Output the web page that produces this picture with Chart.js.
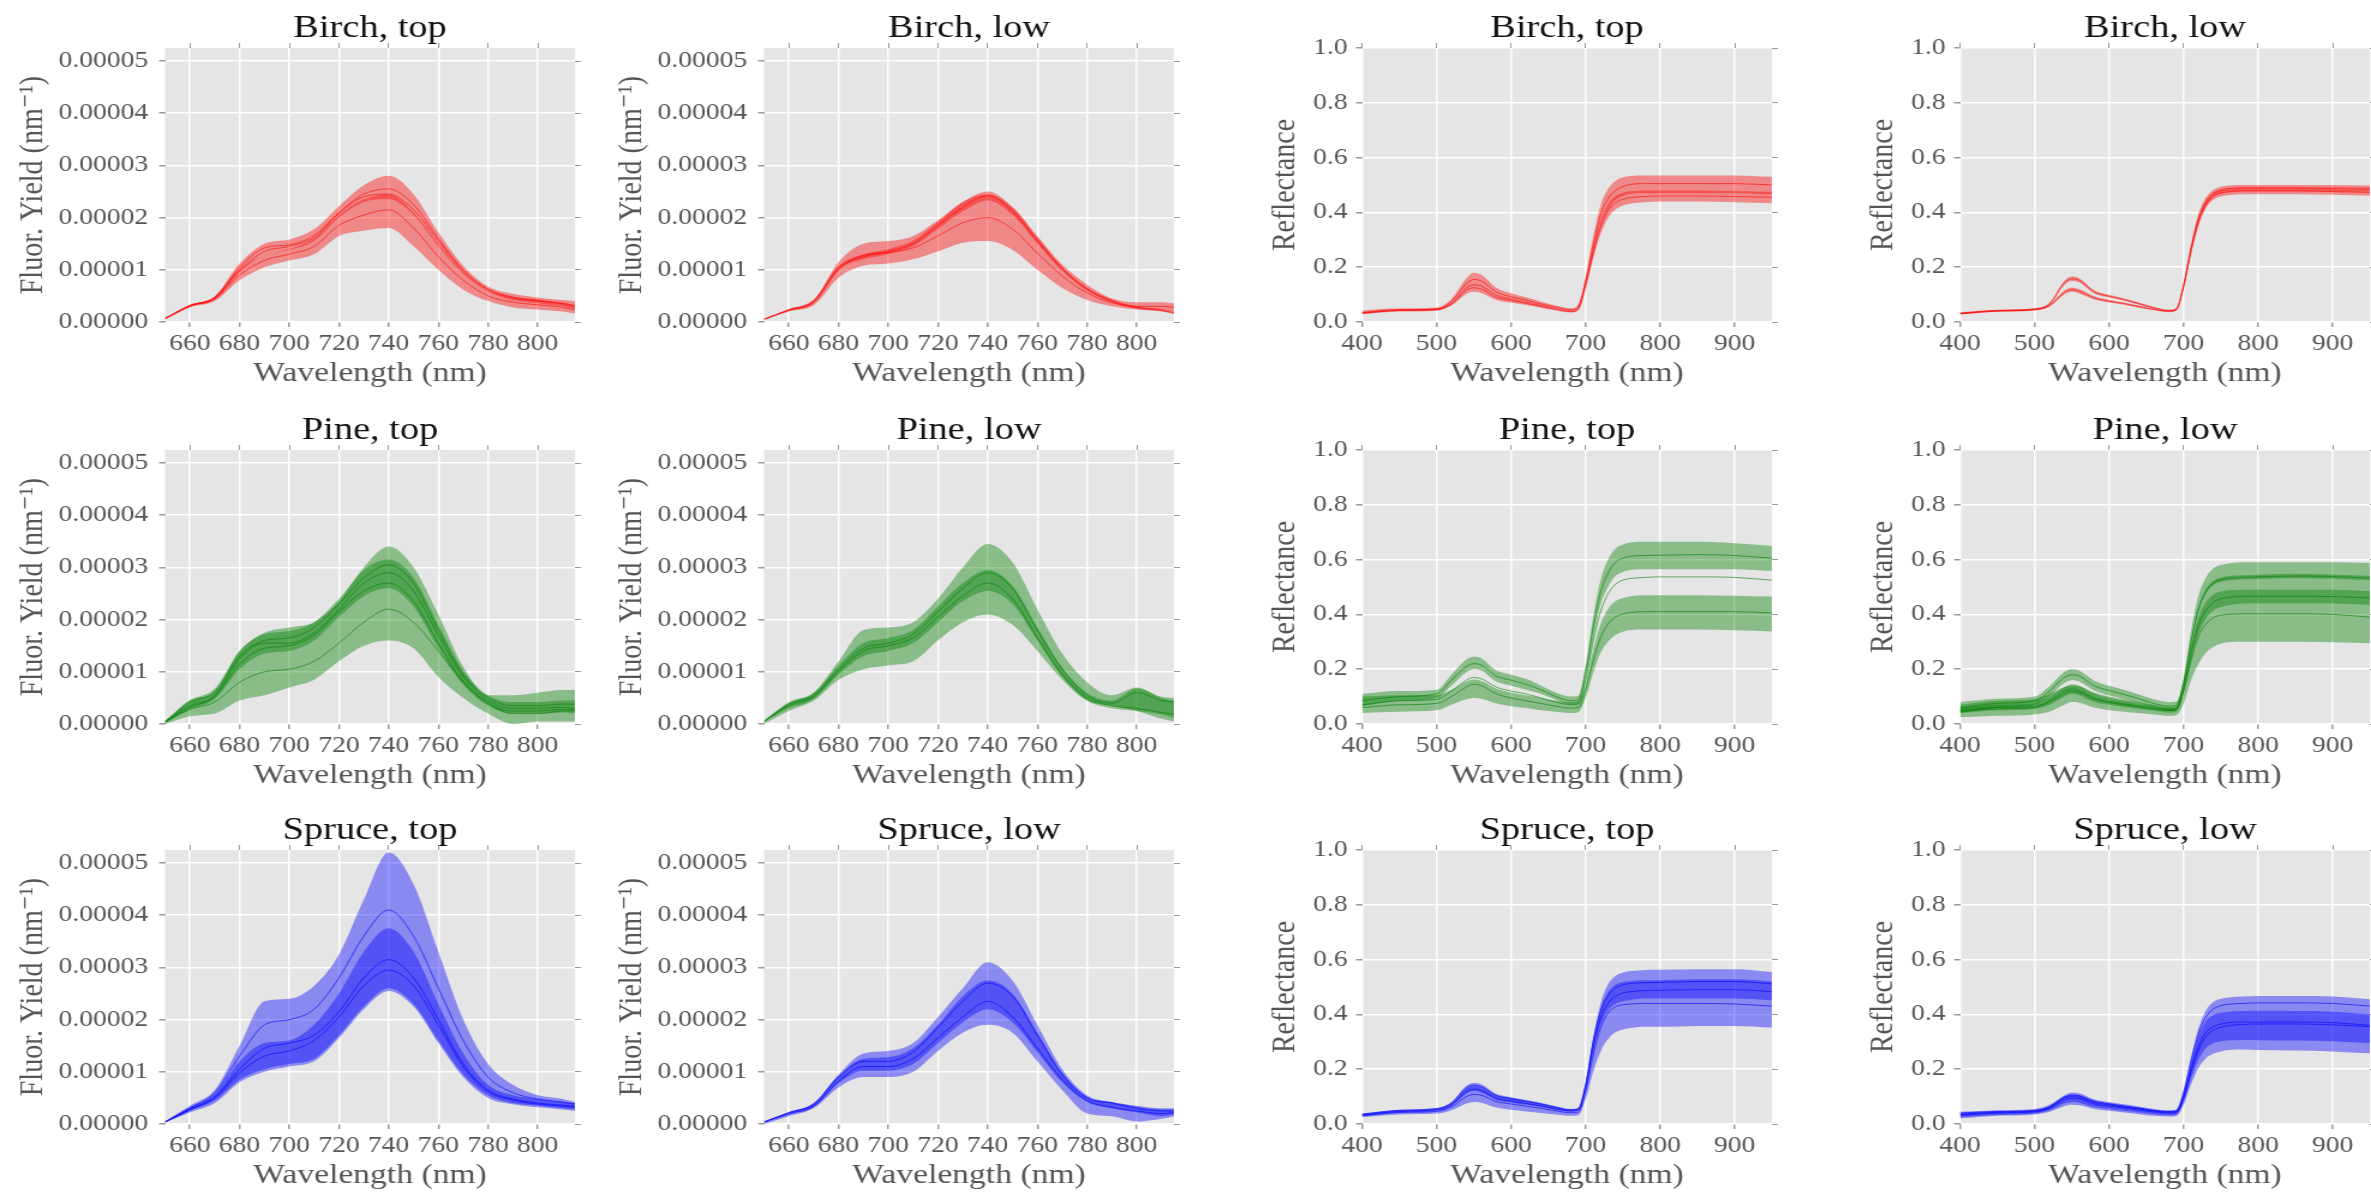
<!DOCTYPE html>
<html>
<head>
<meta charset="utf-8">
<script src="https://cdn.jsdelivr.net/npm/chart.js@4.4.1/dist/chart.umd.min.js"></script>
<style>
  body { margin: 0; background: #fff; width: 2371px; height: 1192px; overflow: hidden; position: relative; }
  canvas { position: absolute; }
</style>
</head>
<body>
<script>
// wavelength grids (nm)
const FLUOR_X = [650, 660, 670, 680, 690, 700, 710, 720, 730, 740, 750, 760, 770, 780, 790, 800, 810, 815];
const REFL_X = [400, 450, 500, 520, 540, 550, 560, 580, 600, 620, 640, 660, 680, 690, 700, 710, 720, 730, 740, 750, 760, 780, 800, 850, 900, 950];

// tick values
const FLUOR_X_TICKS = [660, 680, 700, 720, 740, 760, 780, 800];
const REFL_X_TICKS = [400, 500, 600, 700, 800, 900];
const FLUOR_Y_TICKS = [0, 1, 2, 3, 4, 5];          // in units of 1e-5 nm^-1
const REFL_Y_TICKS = [0, 0.2, 0.4, 0.6, 0.8, 1.0];

// ---- fluorescence yield, units of 1e-5 nm^-1 ----
// Birch, top
const btLoA = [0.05,0.28,0.40,0.80,1.05,1.18,1.30,1.65,1.75,1.80,1.45,1.00,0.62,0.40,0.28,0.24,0.20,0.16];
const btHiA = [0.07,0.32,0.48,1.00,1.30,1.40,1.60,2.05,2.35,2.45,2.10,1.50,0.95,0.60,0.47,0.42,0.35,0.30];
const btLoB = [0.06,0.30,0.44,0.95,1.30,1.38,1.55,2.00,2.30,2.35,2.05,1.45,0.92,0.58,0.42,0.36,0.30,0.25];
const btHiB = [0.08,0.33,0.50,1.12,1.50,1.58,1.78,2.22,2.62,2.80,2.45,1.72,1.08,0.68,0.54,0.47,0.42,0.40];
const btLine1 = [0.06,0.30,0.44,0.90,1.18,1.30,1.45,1.85,2.05,2.15,1.80,1.25,0.80,0.50,0.38,0.33,0.28,0.23];
const btLine2 = [0.07,0.32,0.47,1.05,1.42,1.48,1.66,2.10,2.45,2.55,2.25,1.60,1.00,0.63,0.48,0.42,0.36,0.32];
const btLine3 = [0.07,0.31,0.46,1.00,1.35,1.45,1.62,2.08,2.40,2.45,2.15,1.55,0.97,0.62,0.46,0.40,0.35,0.30];
// Birch, low
const blLoA = [0.04,0.20,0.32,0.85,1.08,1.12,1.20,1.35,1.52,1.55,1.38,1.00,0.65,0.42,0.30,0.24,0.22,0.20];
const blHiA = [0.06,0.24,0.42,1.15,1.50,1.55,1.65,1.95,2.30,2.45,2.20,1.65,1.10,0.72,0.45,0.38,0.38,0.36];
const blLoB = [0.05,0.22,0.38,1.00,1.20,1.30,1.45,1.78,2.12,2.33,2.05,1.50,0.98,0.60,0.38,0.25,0.20,0.15];
const blHiB = [0.06,0.25,0.43,1.08,1.30,1.40,1.56,1.92,2.30,2.50,2.20,1.62,1.06,0.66,0.43,0.30,0.25,0.20];
const blLine1 = [0.05,0.22,0.37,1.00,1.28,1.33,1.42,1.65,1.90,2.00,1.78,1.32,0.88,0.56,0.37,0.30,0.30,0.28];
const blLine2 = [0.055,0.235,0.40,1.04,1.25,1.35,1.50,1.85,2.20,2.42,2.12,1.56,1.02,0.63,0.40,0.28,0.22,0.18];
// Pine, top
const ptLoA = [0.00,0.15,0.20,0.45,0.55,0.70,0.85,1.20,1.50,1.60,1.45,0.90,0.50,0.20,0.00,0.05,0.05,0.05];
const ptHiA = [0.05,0.46,0.62,1.40,1.75,1.85,1.95,2.35,3.00,3.40,3.00,2.10,1.10,0.55,0.55,0.60,0.65,0.65];
const ptLoB = [0.03,0.28,0.48,1.05,1.35,1.40,1.60,2.05,2.45,2.60,2.25,1.45,0.75,0.35,0.20,0.20,0.22,0.20];
const ptHiB = [0.06,0.45,0.68,1.40,1.72,1.78,1.95,2.40,2.95,3.15,2.80,1.90,1.02,0.55,0.42,0.42,0.45,0.45];
const ptLine1 = [0.05,0.40,0.62,1.30,1.60,1.65,1.85,2.30,2.80,3.05,2.70,1.80,0.95,0.50,0.35,0.35,0.38,0.38];
const ptLine2 = [0.04,0.35,0.55,1.25,1.55,1.55,1.75,2.20,2.70,2.90,2.55,1.70,0.90,0.45,0.30,0.30,0.32,0.30];
const ptLine3 = [0.04,0.32,0.52,1.15,1.45,1.50,1.70,2.15,2.55,2.70,2.35,1.55,0.82,0.40,0.25,0.25,0.28,0.28];
const ptLine4 = [0.03,0.28,0.42,0.80,1.00,1.05,1.20,1.55,1.95,2.20,1.95,1.40,0.80,0.40,0.20,0.20,0.25,0.25];
// Pine, low
const plLoA = [0.00,0.25,0.45,0.85,1.05,1.12,1.20,1.60,1.95,2.10,1.90,1.40,0.85,0.45,0.35,0.25,0.10,0.05];
const plHiA = [0.05,0.40,0.60,1.20,1.80,1.85,1.95,2.40,3.00,3.45,3.10,2.20,1.35,0.80,0.55,0.70,0.50,0.45];
const plLoB = [0.04,0.30,0.48,0.95,1.30,1.40,1.55,1.95,2.35,2.55,2.30,1.60,0.90,0.45,0.30,0.25,0.18,0.12];
const plHiB = [0.07,0.42,0.60,1.12,1.55,1.65,1.80,2.25,2.70,2.95,2.65,1.85,1.08,0.60,0.45,0.68,0.52,0.50];
const plLine1 = [0.05,0.35,0.52,1.00,1.40,1.50,1.65,2.05,2.45,2.70,2.40,1.65,0.95,0.50,0.35,0.30,0.22,0.18];
const plLine2 = [0.05,0.38,0.55,1.05,1.45,1.55,1.72,2.15,2.60,2.90,2.60,1.80,1.05,0.55,0.40,0.60,0.45,0.42];
// Spruce, top
const stLoA = [0.03,0.22,0.40,0.80,1.00,1.10,1.20,1.65,2.20,2.55,2.25,1.55,0.90,0.50,0.38,0.32,0.28,0.25];
const stHiA = [0.05,0.35,0.65,1.50,2.35,2.40,2.65,3.25,4.30,5.20,4.60,3.30,2.00,1.15,0.75,0.55,0.48,0.42];
const stLoB = [0.03,0.25,0.45,0.85,1.05,1.15,1.25,1.70,2.25,2.60,2.30,1.60,0.95,0.55,0.40,0.35,0.30,0.28];
const stHiB = [0.05,0.32,0.58,1.20,1.55,1.60,1.90,2.50,3.30,3.75,3.30,2.30,1.35,0.75,0.55,0.48,0.42,0.40];
const stLine1 = [0.04,0.30,0.60,1.30,1.90,2.00,2.20,2.80,3.60,4.10,3.60,2.60,1.60,0.90,0.60,0.48,0.42,0.38];
const stLine2 = [0.04,0.28,0.52,1.05,1.45,1.55,1.70,2.15,2.80,3.15,2.80,2.00,1.15,0.65,0.48,0.40,0.36,0.34];
const stLine3 = [0.04,0.27,0.50,0.98,1.30,1.40,1.60,2.05,2.65,2.95,2.65,1.90,1.10,0.62,0.46,0.38,0.34,0.32];
// Spruce, low
const slLoA = [0.00,0.15,0.30,0.70,0.90,0.90,1.00,1.40,1.75,1.90,1.75,1.20,0.65,0.20,0.15,0.05,0.10,0.15];
const slHiA = [0.05,0.22,0.40,0.95,1.35,1.40,1.55,2.05,2.60,3.10,2.75,1.90,1.05,0.55,0.42,0.35,0.30,0.30];
const slLoB = [0.03,0.18,0.32,0.78,1.02,1.02,1.15,1.55,1.95,2.20,1.95,1.38,0.80,0.42,0.30,0.22,0.15,0.18];
const slHiB = [0.05,0.23,0.40,0.92,1.25,1.28,1.45,1.90,2.45,2.75,2.50,1.75,0.98,0.52,0.42,0.33,0.28,0.28];
const slLine1 = [0.04,0.20,0.35,0.82,1.10,1.10,1.25,1.65,2.05,2.35,2.05,1.45,0.85,0.45,0.32,0.25,0.20,0.22];
const slLine2 = [0.04,0.22,0.38,0.90,1.20,1.20,1.38,1.85,2.35,2.70,2.45,1.70,0.95,0.50,0.40,0.30,0.25,0.25];

// ---- reflectance ----
// Birch, top
const rbtLoA = [0.030,0.040,0.043,0.066,0.120,0.133,0.128,0.095,0.080,0.070,0.058,0.048,0.040,0.050,0.135,0.250,0.355,0.410,0.445,0.460,0.468,0.470,0.470,0.470,0.470,0.465];
const rbtHiA = [0.042,0.050,0.053,0.085,0.160,0.180,0.172,0.125,0.105,0.090,0.075,0.060,0.050,0.064,0.165,0.310,0.425,0.485,0.515,0.528,0.533,0.535,0.535,0.535,0.535,0.530];
const rbtLoB = [0.028,0.038,0.041,0.060,0.102,0.110,0.106,0.080,0.070,0.062,0.052,0.042,0.035,0.042,0.120,0.230,0.320,0.380,0.410,0.425,0.432,0.437,0.440,0.440,0.437,0.433];
const rbtHiB = [0.036,0.046,0.049,0.070,0.128,0.140,0.134,0.100,0.086,0.075,0.063,0.050,0.042,0.052,0.145,0.270,0.370,0.430,0.460,0.472,0.477,0.480,0.480,0.480,0.478,0.475];
const rbtLine1 = [0.035,0.045,0.048,0.075,0.140,0.155,0.150,0.110,0.092,0.080,0.066,0.054,0.045,0.057,0.150,0.280,0.390,0.450,0.480,0.495,0.502,0.505,0.505,0.505,0.505,0.500];
const rbtLine2 = [0.032,0.042,0.045,0.065,0.115,0.125,0.120,0.090,0.078,0.068,0.057,0.046,0.038,0.047,0.135,0.250,0.345,0.405,0.435,0.448,0.454,0.458,0.460,0.460,0.458,0.455];
// Birch, low
const rblLoA = [0.028,0.039,0.044,0.062,0.135,0.150,0.144,0.104,0.089,0.078,0.063,0.049,0.039,0.044,0.125,0.255,0.365,0.425,0.457,0.470,0.475,0.478,0.478,0.478,0.477,0.476];
const rblHiA = [0.036,0.045,0.050,0.070,0.150,0.166,0.160,0.116,0.099,0.086,0.071,0.055,0.045,0.050,0.145,0.285,0.395,0.455,0.483,0.494,0.498,0.500,0.500,0.500,0.500,0.498];
const rblLoB = [0.027,0.037,0.042,0.056,0.100,0.110,0.104,0.082,0.071,0.063,0.052,0.043,0.036,0.041,0.122,0.248,0.352,0.416,0.446,0.458,0.463,0.466,0.466,0.466,0.464,0.461];
const rblHiB = [0.033,0.043,0.048,0.064,0.115,0.126,0.120,0.094,0.081,0.071,0.060,0.049,0.042,0.047,0.138,0.272,0.378,0.440,0.470,0.482,0.487,0.490,0.490,0.490,0.488,0.485];
const rblLine1 = [0.032,0.042,0.047,0.066,0.143,0.158,0.152,0.110,0.094,0.082,0.067,0.052,0.042,0.047,0.135,0.270,0.380,0.440,0.470,0.482,0.487,0.490,0.490,0.490,0.489,0.488];
const rblLine2 = [0.030,0.040,0.045,0.060,0.108,0.118,0.112,0.088,0.076,0.067,0.056,0.046,0.039,0.044,0.130,0.260,0.365,0.428,0.458,0.470,0.475,0.478,0.478,0.478,0.476,0.473];
// Pine, top
const rptLoA = [0.065,0.085,0.095,0.140,0.190,0.200,0.195,0.155,0.140,0.125,0.110,0.088,0.072,0.074,0.165,0.310,0.435,0.500,0.540,0.555,0.562,0.565,0.565,0.565,0.565,0.558];
const rptHiA = [0.110,0.120,0.125,0.180,0.235,0.245,0.240,0.195,0.180,0.165,0.140,0.115,0.100,0.103,0.215,0.390,0.525,0.600,0.640,0.655,0.662,0.665,0.665,0.665,0.660,0.650];
const rptLoB = [0.040,0.045,0.050,0.070,0.090,0.095,0.092,0.075,0.065,0.058,0.050,0.045,0.040,0.043,0.095,0.185,0.260,0.300,0.325,0.337,0.343,0.345,0.345,0.345,0.342,0.338];
const rptHiB = [0.100,0.105,0.105,0.125,0.155,0.162,0.157,0.130,0.115,0.105,0.095,0.085,0.080,0.083,0.150,0.270,0.365,0.420,0.448,0.460,0.466,0.470,0.470,0.470,0.468,0.465];
const rptLine1 = [0.085,0.100,0.110,0.160,0.210,0.220,0.215,0.175,0.160,0.145,0.125,0.100,0.085,0.088,0.190,0.350,0.480,0.550,0.590,0.605,0.612,0.615,0.616,0.618,0.615,0.605];
const rptLine2 = [0.070,0.085,0.090,0.120,0.160,0.170,0.165,0.135,0.120,0.110,0.095,0.080,0.070,0.073,0.160,0.300,0.410,0.475,0.510,0.525,0.531,0.535,0.537,0.537,0.535,0.525];
const rptLine3 = [0.060,0.070,0.075,0.100,0.135,0.145,0.140,0.110,0.095,0.085,0.075,0.065,0.058,0.060,0.125,0.230,0.315,0.365,0.390,0.402,0.407,0.410,0.410,0.410,0.410,0.405];
// Pine, low
const rplLoA = [0.025,0.030,0.035,0.045,0.070,0.080,0.078,0.060,0.050,0.045,0.040,0.035,0.030,0.032,0.075,0.160,0.220,0.260,0.282,0.293,0.298,0.300,0.300,0.300,0.298,0.295];
const rplHiA = [0.070,0.085,0.090,0.110,0.135,0.140,0.138,0.115,0.100,0.090,0.080,0.070,0.062,0.065,0.170,0.340,0.470,0.535,0.568,0.580,0.586,0.590,0.590,0.590,0.590,0.588];
const rplLoB = [0.040,0.050,0.055,0.070,0.100,0.110,0.105,0.080,0.070,0.062,0.055,0.048,0.042,0.045,0.115,0.235,0.330,0.385,0.415,0.427,0.433,0.440,0.440,0.440,0.440,0.435];
const rplHiB = [0.060,0.070,0.075,0.100,0.135,0.145,0.140,0.110,0.095,0.085,0.075,0.065,0.058,0.061,0.145,0.285,0.390,0.445,0.473,0.484,0.488,0.490,0.490,0.490,0.490,0.485];
const rplLoC = [0.040,0.058,0.070,0.102,0.150,0.160,0.155,0.122,0.104,0.091,0.076,0.060,0.050,0.054,0.140,0.290,0.412,0.477,0.507,0.519,0.524,0.527,0.529,0.532,0.530,0.525];
const rplHiC = [0.080,0.092,0.100,0.138,0.190,0.200,0.195,0.158,0.140,0.125,0.108,0.090,0.080,0.082,0.160,0.310,0.428,0.493,0.523,0.535,0.540,0.543,0.545,0.548,0.546,0.541];
const rplLine1 = [0.045,0.055,0.060,0.080,0.110,0.120,0.115,0.090,0.078,0.070,0.062,0.055,0.050,0.052,0.120,0.230,0.320,0.365,0.388,0.397,0.400,0.402,0.402,0.402,0.400,0.390];
const rplLine2 = [0.060,0.075,0.085,0.120,0.170,0.180,0.175,0.140,0.122,0.108,0.092,0.075,0.065,0.068,0.150,0.300,0.420,0.485,0.515,0.527,0.532,0.535,0.537,0.540,0.538,0.533];
const rplLine3 = [0.050,0.060,0.065,0.085,0.120,0.128,0.122,0.095,0.082,0.074,0.065,0.057,0.050,0.053,0.130,0.260,0.360,0.415,0.445,0.457,0.462,0.466,0.466,0.466,0.465,0.460];
// Spruce, top
const rstLoA = [0.025,0.035,0.038,0.050,0.075,0.080,0.078,0.060,0.052,0.046,0.040,0.035,0.030,0.032,0.090,0.190,0.265,0.310,0.335,0.345,0.350,0.355,0.355,0.358,0.358,0.352];
const rstHiA = [0.035,0.050,0.055,0.075,0.130,0.140,0.135,0.105,0.095,0.085,0.075,0.062,0.052,0.056,0.150,0.310,0.440,0.510,0.540,0.553,0.558,0.562,0.563,0.565,0.565,0.555];
const rstLoB = [0.030,0.042,0.048,0.065,0.110,0.120,0.115,0.088,0.078,0.070,0.062,0.052,0.045,0.049,0.128,0.265,0.360,0.415,0.438,0.448,0.453,0.458,0.458,0.458,0.458,0.452];
const rstHiB = [0.038,0.052,0.058,0.080,0.140,0.150,0.145,0.110,0.098,0.088,0.078,0.065,0.055,0.059,0.150,0.310,0.420,0.480,0.508,0.518,0.522,0.525,0.525,0.528,0.528,0.520];
const rstLine1 = [0.030,0.042,0.046,0.062,0.100,0.108,0.105,0.082,0.073,0.065,0.057,0.048,0.041,0.044,0.120,0.250,0.350,0.405,0.428,0.435,0.438,0.440,0.440,0.440,0.438,0.430];
const rstLine2 = [0.036,0.050,0.056,0.077,0.132,0.142,0.137,0.104,0.093,0.083,0.073,0.061,0.052,0.056,0.145,0.300,0.410,0.470,0.497,0.508,0.513,0.516,0.517,0.520,0.520,0.512];
const rstLine3 = [0.033,0.046,0.052,0.070,0.118,0.127,0.122,0.094,0.084,0.075,0.066,0.055,0.048,0.052,0.135,0.280,0.385,0.440,0.466,0.478,0.483,0.487,0.488,0.490,0.490,0.483];
// Spruce, low
const rslLoA = [0.020,0.030,0.035,0.045,0.065,0.070,0.068,0.055,0.048,0.042,0.036,0.030,0.027,0.029,0.070,0.145,0.205,0.240,0.257,0.265,0.270,0.272,0.270,0.268,0.265,0.258];
const rslHiA = [0.045,0.050,0.055,0.070,0.105,0.115,0.112,0.090,0.080,0.072,0.064,0.055,0.050,0.053,0.125,0.245,0.350,0.415,0.445,0.457,0.462,0.465,0.467,0.467,0.465,0.455];
const rslLoB = [0.025,0.033,0.038,0.050,0.075,0.080,0.078,0.062,0.055,0.048,0.042,0.036,0.032,0.034,0.080,0.165,0.235,0.278,0.295,0.302,0.305,0.307,0.306,0.305,0.302,0.295];
const rslHiB = [0.040,0.046,0.050,0.065,0.100,0.108,0.105,0.085,0.075,0.067,0.060,0.052,0.047,0.049,0.110,0.225,0.320,0.375,0.398,0.406,0.410,0.412,0.413,0.412,0.410,0.400];
const rslLine1 = [0.040,0.046,0.050,0.063,0.098,0.106,0.103,0.083,0.074,0.066,0.058,0.050,0.046,0.048,0.115,0.230,0.330,0.390,0.420,0.432,0.437,0.440,0.442,0.442,0.440,0.430];
const rslLine2 = [0.032,0.040,0.044,0.057,0.088,0.094,0.092,0.073,0.065,0.058,0.051,0.044,0.040,0.042,0.095,0.190,0.270,0.320,0.343,0.353,0.359,0.363,0.365,0.365,0.362,0.355];
const rslLine3 = [0.035,0.043,0.047,0.060,0.095,0.100,0.098,0.078,0.070,0.062,0.055,0.047,0.043,0.045,0.100,0.200,0.285,0.335,0.355,0.365,0.370,0.372,0.372,0.372,0.370,0.360];

const RED = '255,0,0', GREEN = '0,128,0', BLUE = '0,0,255';

const panels = [
  { title: 'Birch, top', kind: 'fluor', col: 0, row: 0, rgb: RED, bands: [[btLoA, btHiA], [btLoB, btHiB]], lines: [btLine1, btLine2, btLine3] },
  { title: 'Birch, low', kind: 'fluor', col: 1, row: 0, rgb: RED, bands: [[blLoA, blHiA], [blLoB, blHiB]], lines: [blLine1, blLine2] },
  { title: 'Birch, top', kind: 'refl', col: 2, row: 0, rgb: RED, bands: [[rbtLoA, rbtHiA], [rbtLoB, rbtHiB]], lines: [rbtLine1, rbtLine2] },
  { title: 'Birch, low', kind: 'refl', col: 3, row: 0, rgb: RED, bands: [[rblLoA, rblHiA], [rblLoB, rblHiB]], lines: [rblLine1, rblLine2] },
  { title: 'Pine, top', kind: 'fluor', col: 0, row: 1, rgb: GREEN, bands: [[ptLoA, ptHiA], [ptLoB, ptHiB]], lines: [ptLine1, ptLine2, ptLine3, ptLine4] },
  { title: 'Pine, low', kind: 'fluor', col: 1, row: 1, rgb: GREEN, bands: [[plLoA, plHiA], [plLoB, plHiB]], lines: [plLine1, plLine2] },
  { title: 'Pine, top', kind: 'refl', col: 2, row: 1, rgb: GREEN, bands: [[rptLoA, rptHiA], [rptLoB, rptHiB]], lines: [rptLine1, rptLine2, rptLine3] },
  { title: 'Pine, low', kind: 'refl', col: 3, row: 1, rgb: GREEN, bands: [[rplLoA, rplHiA], [rplLoB, rplHiB], [rplLoC, rplHiC]], lines: [rplLine1, rplLine2, rplLine3] },
  { title: 'Spruce, top', kind: 'fluor', col: 0, row: 2, rgb: BLUE, bands: [[stLoA, stHiA], [stLoB, stHiB]], lines: [stLine1, stLine2, stLine3] },
  { title: 'Spruce, low', kind: 'fluor', col: 1, row: 2, rgb: BLUE, bands: [[slLoA, slHiA], [slLoB, slHiB]], lines: [slLine1, slLine2] },
  { title: 'Spruce, top', kind: 'refl', col: 2, row: 2, rgb: BLUE, bands: [[rstLoA, rstHiA], [rstLoB, rstHiB]], lines: [rstLine1, rstLine2, rstLine3] },
  { title: 'Spruce, low', kind: 'refl', col: 3, row: 2, rgb: BLUE, bands: [[rslLoA, rslHiA], [rslLoB, rslHiB]], lines: [rslLine1, rslLine2, rslLine3] }
];

// layout (page px). Canvases are stretched horizontally by STRETCH like the original figure.
const STRETCH = 1.2;
const COL_LEFT = [165, 764, 1362, 1960];
const ROW_TOP = [48, 450, 850];
const PLOT_W = 410, PLOT_H = 274;
const PAD_L = 165, PAD_R = 13, PAD_T = 48, PAD_B = 72;
const SERIF = '"Liberation Serif", "DejaVu Serif", serif';

const plotBackground = {
  id: 'plotBackground',
  beforeDraw(chart) {
    const { ctx, chartArea: a } = chart;
    ctx.save();
    ctx.fillStyle = '#e5e5e5';
    ctx.fillRect(a.left, a.top, a.right - a.left, a.bottom - a.top);
    ctx.restore();
  }
};

function points(xs, ys) {
  return xs.map((x, i) => ({ x: x, y: ys[i] }));
}

function makePanel(p) {
  const fluor = p.kind === 'fluor';
  const xs = fluor ? FLUOR_X : REFL_X;
  const xTicks = fluor ? FLUOR_X_TICKS : REFL_X_TICKS;
  const yTicks = fluor ? FLUOR_Y_TICKS : REFL_Y_TICKS;
  const xMin = fluor ? 650 : 400, xMax = fluor ? 815 : 950;
  const yMax = fluor ? 5.25 : 1.0;

  const cssW = PAD_L + PLOT_W + PAD_R;
  const cssH = PAD_T + PLOT_H + PAD_B;
  const canvas = document.createElement('canvas');
  canvas.width = Math.round(cssW / STRETCH);
  canvas.height = cssH;
  canvas.style.width = cssW + 'px';
  canvas.style.height = cssH + 'px';
  canvas.style.left = (COL_LEFT[p.col] - PAD_L) + 'px';
  canvas.style.top = (ROW_TOP[p.row] - PAD_T) + 'px';
  document.body.appendChild(canvas);

  const datasets = [];
  p.lines.forEach(l => {
    datasets.push({ data: points(xs, l), borderColor: 'rgba(' + p.rgb + ',0.6)', borderWidth: 1, fill: false });
  });
  p.bands.forEach(b => {
    datasets.push({ data: points(xs, b[1]), borderWidth: 0, borderColor: 'rgba(0,0,0,0)',
                    backgroundColor: 'rgba(' + p.rgb + ',0.4)', fill: '+1' });
    datasets.push({ data: points(xs, b[0]), borderWidth: 0, borderColor: 'rgba(0,0,0,0)', fill: false });
  });

  const setX = s => { s.ticks = xTicks.map(v => ({ value: v })); };
  const setY = s => { s.ticks = yTicks.map(v => ({ value: v })); };
  const tickFont = { family: SERIF, size: 23 };
  const labelFont = { family: SERIF, size: 28 };

  new Chart(canvas.getContext('2d'), {
    type: 'line',
    data: { datasets: datasets },
    plugins: [plotBackground],
    options: {
      responsive: false,
      animation: false,
      devicePixelRatio: 1,
      events: [],
      layout: { padding: 0 },
      elements: { point: { radius: 0 }, line: { cubicInterpolationMode: 'monotone' } },
      plugins: { legend: { display: false }, tooltip: { enabled: false } },
      scales: {
        x: {
          type: 'linear', position: 'bottom', min: xMin, max: xMax,
          afterBuildTicks: setX,
          afterFit: s => { s.height = PAD_B; },
          grid: { color: '#ffffff', lineWidth: 1.5, tickColor: '#999', tickLength: 5 },
          border: { display: false },
          ticks: { color: '#555', font: tickFont, padding: 3, maxRotation: 0, autoSkip: false },
          title: { display: true, text: 'Wavelength (nm)', color: '#555', font: labelFont, padding: { top: 0, bottom: 4 } }
        },
        y: {
          type: 'linear', position: 'left', min: 0, max: yMax,
          afterBuildTicks: setY,
          afterFit: s => { s.width = PAD_L / STRETCH; },
          grid: { color: '#ffffff', lineWidth: 1.5, tickColor: '#999', tickLength: 5 },
          border: { display: false },
          ticks: {
            color: '#555', font: tickFont, padding: fluor ? 9 : 7,
            callback: v => fluor ? (v * 1e-5).toFixed(5) : v.toFixed(1)
          },
          title: {
            display: true, color: '#555', font: labelFont,
            text: fluor ? 'Fluor. Yield (nm\u207B\u00B9)' : 'Reflectance',
            padding: { top: fluor ? 11 : 57, bottom: 0 }
          }
        },
        x2: {
          type: 'linear', position: 'top', min: xMin, max: xMax,
          afterBuildTicks: setX,
          afterFit: s => { s.height = PAD_T; },
          grid: { drawOnChartArea: false, tickColor: '#999', tickLength: 5 },
          border: { display: false },
          ticks: { display: false },
          title: { display: true, text: p.title, color: '#111', font: { family: SERIF, size: 32 }, padding: { top: 9, bottom: 0 } }
        },
        y2: {
          type: 'linear', position: 'right', min: 0, max: yMax,
          afterBuildTicks: setY,
          afterFit: s => { s.width = PAD_R / STRETCH; },
          grid: { drawOnChartArea: false, tickColor: '#999', tickLength: 5 },
          border: { display: false },
          ticks: { display: false }
        }
      }
    }
  });
}

panels.forEach(makePanel);
</script>
</body>
</html>
